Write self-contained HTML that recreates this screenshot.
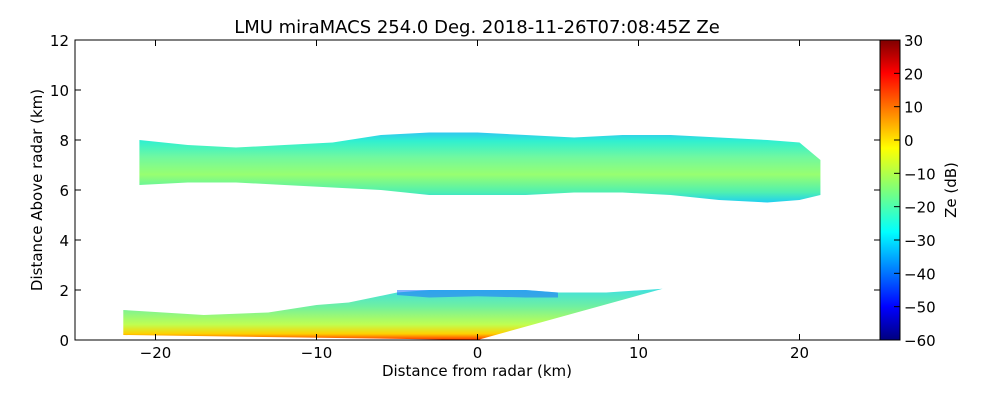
<!DOCTYPE html>
<html><head><meta charset="utf-8"><style>
body{margin:0;background:#fff;font-family:"Liberation Sans",sans-serif}
svg text{font-family:"DejaVu Sans","Liberation Sans",sans-serif;fill:#000}
</style></head><body>
<svg id="c" width="1000" height="400">
<defs>
<linearGradient id="jet" x1="0" y1="1" x2="0" y2="0">
<stop offset="0" stop-color="#00007f"/><stop offset="0.11" stop-color="#0000ff"/>
<stop offset="0.36" stop-color="#00ffff"/><stop offset="0.5" stop-color="#7dff7a"/>
<stop offset="0.64" stop-color="#ffff00"/><stop offset="0.89" stop-color="#ff0000"/>
<stop offset="1" stop-color="#7f0000"/></linearGradient>
<linearGradient id="upper" x1="0" y1="0" x2="0" y2="1">
<stop offset="0" stop-color="#30c8f0"/><stop offset="0.12" stop-color="#30f0d0"/>
<stop offset="0.35" stop-color="#70f8a0"/><stop offset="0.6" stop-color="#98ff70"/>
<stop offset="0.85" stop-color="#50f0b0"/><stop offset="1" stop-color="#20d0f0"/></linearGradient>
<linearGradient id="lower" x1="0" y1="0" x2="0" y2="1">
<stop offset="0" stop-color="#40e0e0"/><stop offset="0.35" stop-color="#70f0a0"/>
<stop offset="0.7" stop-color="#c0ff50"/><stop offset="0.88" stop-color="#ffd000"/>
<stop offset="1" stop-color="#ff3000"/></linearGradient>
</defs>
<g id="plot"></g>
<rect x="75" y="40" width="805" height="300" fill="none" stroke="#000"/>
<text x="477" y="33" font-size="18" text-anchor="middle">LMU miraMACS 254.0 Deg. 2018-11-26T07:08:45Z  Ze</text>
<text x="477" y="376" font-size="15" text-anchor="middle">Distance from radar (km)</text>
<text x="0" y="0" font-size="15" text-anchor="middle" transform="translate(42,190) rotate(-90)">Distance Above radar  (km)</text>
<rect x="880" y="40" width="20" height="300" fill="url(#jet)" stroke="#000"/>
<text x="0" y="0" font-size="15" text-anchor="middle" transform="translate(956,190) rotate(-90)">Ze (dB)</text>
</svg>
<script>
const xTicks=[-20,-10,0,10,20];
const yTicks=[0,2,4,6,8,10,12];
const cbTicks=[30,20,10,0,-10,-20,-30,-40,-50,-60];
const upperX=[-21,-18,-15,-12,-9,-6,-3,0,3,6,9,12,15,18,20,21.3];
const upperTop=[8.0,7.8,7.7,7.8,7.9,8.2,8.3,8.3,8.2,8.1,8.2,8.2,8.1,8.0,7.9,7.2];
const upperBot=[6.2,6.3,6.3,6.2,6.1,6.0,5.8,5.8,5.8,5.9,5.9,5.8,5.6,5.5,5.6,5.8];
const lowerX=[-22,-17,-13,-10,-8,-5,-3,0,3,5,8,11.5,0];
const lowerY=[1.2,1.0,1.1,1.4,1.5,1.9,2.0,2.0,2.0,1.9,1.9,2.05,0];
const blueX=[-5,-3,0,3,5,5,3,0,-3,-5];
const blueY=[2.0,2.0,2.0,2.0,1.9,1.7,1.7,1.75,1.7,1.8];
const sx=v=>75+(v+25)*805/50, sy=v=>340-v*25, cy=v=>340-(v+60)*300/90;
const svg=document.getElementById('c'), g=document.getElementById('plot'), NS='http://www.w3.org/2000/svg';
function mk(t,a,p){const e=document.createElementNS(NS,t);for(const k in a)e.setAttribute(k,a[k]);(p||svg).appendChild(e);return e;}
let pts=upperX.map((x,i)=>sx(x)+','+sy(upperTop[i]));
for(let i=upperX.length-1;i>=0;i--)pts.push(sx(upperX[i])+','+sy(upperBot[i]));
const up=mk('polygon',{points:pts.join(' '),fill:'url(#upper)'},g);


let lp=[sx(-22)+','+sy(0.2)].concat(lowerX.map((x,i)=>sx(x)+','+sy(lowerY[i])));
const lo=mk('polygon',{points:lp.join(' '),fill:'url(#lower)'},g);


const bl=mk('polygon',{points:blueX.map((x,i)=>sx(x)+','+sy(blueY[i])).join(' '),fill:'#1e70ff',opacity:0.55},g);


xTicks.forEach(v=>{const x=sx(v);
mk('line',{x1:x,x2:x,y1:340,y2:334,stroke:'#000'});mk('line',{x1:x,x2:x,y1:40,y2:46,stroke:'#000'});
const t=mk('text',{x:x,y:358,'font-size':15,'text-anchor':'middle'});t.textContent=v<0?'\u2212'+(-v):v;

});
yTicks.forEach(v=>{const y=sy(v);
mk('line',{x1:75,x2:81,y1:y,y2:y,stroke:'#000'});mk('line',{x1:874,x2:880,y1:y,y2:y,stroke:'#000'});
const t=mk('text',{x:69,y:y+6,'font-size':15,'text-anchor':'end'});t.textContent=v;

});
cbTicks.forEach(v=>{const y=cy(v);
mk('line',{x1:894,x2:900,y1:y,y2:y,stroke:'#000'});
const t=mk('text',{x:904,y:y+6,'font-size':15});t.textContent=v<0?'\u2212'+(-v):v;

});
</script>
</body></html>
